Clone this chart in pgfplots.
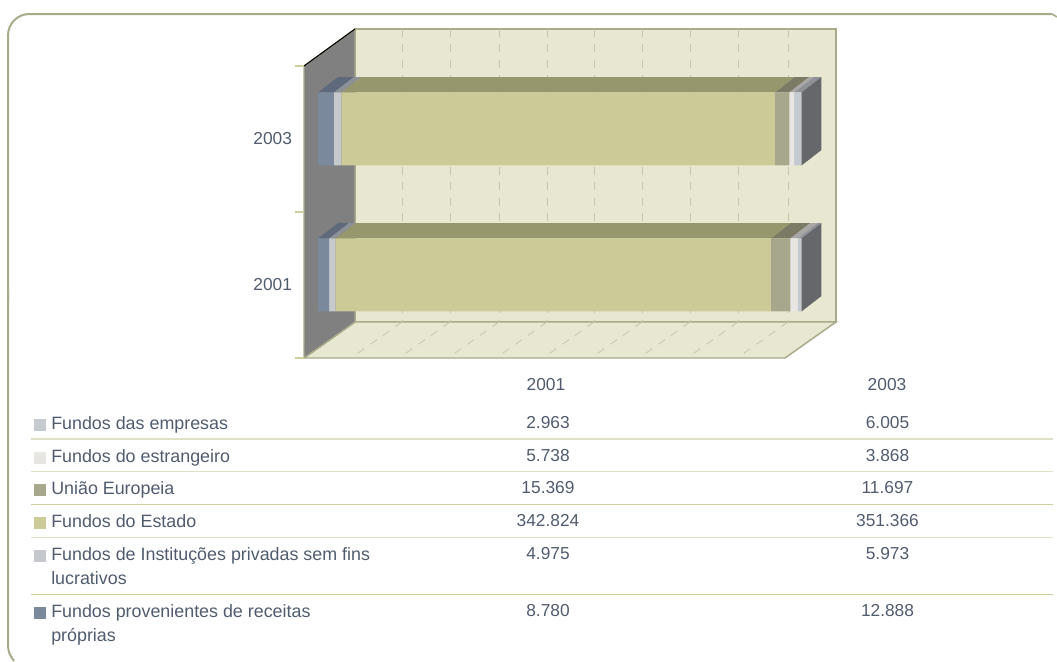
\documentclass[border=0pt]{standalone}
\usepackage{fontspec}
\setmainfont{Liberation Sans}
\usepackage{pgfplots}
\usepackage{pgfplotstable}
\pgfplotsset{compat=1.18}

\definecolor{txt}{HTML}{505C6E}
\definecolor{edge}{HTML}{A9AA8A}
\definecolor{wall}{HTML}{E8E7D2}
\definecolor{gridc}{HTML}{C6C6B0}
\definecolor{cProp}{HTML}{7B899C}\definecolor{tProp}{HTML}{5E6A7C}
\definecolor{cPriv}{HTML}{C5C9CD}\definecolor{tPriv}{HTML}{8C9198}
\definecolor{cEst}{HTML}{CCCB97}\definecolor{tEst}{HTML}{97976D}
\definecolor{cUE}{HTML}{A7A78B}\definecolor{tUE}{HTML}{7B7B65}
\definecolor{cExt}{HTML}{E8E6E3}\definecolor{tExt}{HTML}{A9A7A5}
\definecolor{cEmp}{HTML}{C5CAD0}\definecolor{tEmp}{HTML}{8E9298}
\definecolor{side}{HTML}{65676A}
\definecolor{ruleA}{HTML}{DFE0C6}
\definecolor{ruleB}{HTML}{CFCE9F}

% shares of each year's total, in percent (100% stacked bars)
\pgfplotstableread{
y prop   priv   est     ue     ext    emp
0 2.3066 1.3070 90.0638 4.0376 1.5074 0.7784
1 3.2895 1.5245 89.6806 2.9855 0.9872 1.5327
}\shares

\pgfplotsset{
  pixaxis/.style={at={(0pt,0pt)},anchor=south west,width=792.75pt,height=495.75pt,
    scale only axis,xmin=0,xmax=1057,ymin=0,ymax=661,y dir=reverse,axis lines=none,clip=false},
  baraxis/.style={at={(238.5pt,234.75pt)},anchor=south west,width=362.6pt,height=219pt,
    scale only axis,xmin=0,xmax=100,ymin=-0.5,ymax=1.5,clip=false},
  face/.style={fill=#1,draw=none,mark=none,forget plot},
  gridl/.style={draw=gridc,line width=0.6pt,dash pattern=on 6pt off 5.5pt,mark=none,forget plot},
}

\newcommand{\lab}[1]{\fontsize{13.4pt}{18pt}\selectfont #1}
\newcommand{\row}[5]{% y, colour, label, 2001, 2003
  \fill[#2] (axis cs:34,#1-4) rectangle (axis cs:46,#1+8);
  \node[anchor=base west,inner sep=0pt,text=txt] at (axis cs:51,#1+6) {\lab{#3}};
  \node[anchor=base,inner sep=0pt,text=txt] at (axis cs:548,#1+5) {#4};
  \node[anchor=base,inner sep=0pt,text=txt] at (axis cs:887.5,#1+5) {#5};
}

\begin{document}
\fontsize{13pt}{18pt}\selectfont
\begin{tikzpicture}
\path[use as bounding box] (0,0) rectangle (792.75pt,495.75pt);

% walls, floor and the table, in pixel coordinates
\begin{axis}[pixaxis]
\draw[edge,line width=1.5pt,rounded corners=16pt] (axis cs:1052,14) -- (axis cs:8,14) -- (axis cs:8,300);
\draw[edge,line width=1.5pt] (axis cs:8,290) -- (axis cs:8,640) .. controls (axis cs:8,652) .. (axis cs:14,661);
\draw[edge,line width=1.2pt] (axis cs:1052,14) -- (axis cs:1057,17);

\addplot[face=wall,draw=edge,line width=1.1pt] coordinates {(355,29)(836,29)(836,322)(355,322)} -- cycle;
\addplot[face=wall,draw=edge,line width=1.1pt] coordinates {(304,358)(355,322)(836,322)(785,358)} -- cycle;
\addplot[face=gray!100,draw=edge,line width=1pt,fill=black!50] coordinates {(304,66)(355,29)(355,322)(304,358)} -- cycle;
\addplot[black,line width=0.8pt,mark=none,forget plot] coordinates {(304,66)(355,29)};

\pgfplotsinvokeforeach{402,450,499,547,594,642,690,738,788}{
  \addplot[gridl] coordinates {(#1,29)(#1,322)};
  \addplot[gridl] coordinates {(#1,322)(#1-51,358)};
}
\addplot[ruleB,line width=1pt,mark=none,forget plot] coordinates {(295,66)(304,66)};
\addplot[ruleB,line width=1pt,mark=none,forget plot] coordinates {(295,212)(304,212)};
\addplot[ruleB,line width=1pt,mark=none,forget plot] coordinates {(295,358)(304,358)};

\node[anchor=base,inner sep=0pt,text=txt] at (axis cs:546,390) {2001};
\node[anchor=base,inner sep=0pt,text=txt] at (axis cs:887,390) {2003};
\row{423}{cEmp}{Fundos das empresas}{2.963}{6.005}
\row{456}{cExt}{Fundos do estrangeiro}{5.738}{3.868}
\row{488}{cUE}{União Europeia}{15.369}{11.697}
\row{521}{cEst}{Fundos do Estado}{342.824}{351.366}
\row{554}{cPriv}{Fundos de Instituções privadas sem fins}{4.975}{5.973}
\row{611}{cProp}{Fundos provenientes de receitas}{8.780}{12.888}
\node[anchor=base west,inner sep=0pt,text=txt] at (axis cs:51,584) {\lab{lucrativos}};
\node[anchor=base west,inner sep=0pt,text=txt] at (axis cs:51,641) {\lab{próprias}};

\addplot[ruleA,line width=1.3pt,mark=none,forget plot] coordinates {(31,439)(1053,439)};
\addplot[ruleA,line width=1.1pt,mark=none,forget plot] coordinates {(31,471.7)(1053,471.7)};
\addplot[ruleB,line width=0.8pt,mark=none,forget plot] coordinates {(31,504.3)(1053,504.3)};
\addplot[ruleA,line width=0.8pt,mark=none,forget plot] coordinates {(31,537.3)(1053,537.3)};
\addplot[ruleB,line width=0.8pt,mark=none,forget plot] coordinates {(31,594.3)(1053,594.3)};
\end{axis}

% top and end faces of the bars: x in percent, y in categories, depth (4.13, 0.106)
\begin{axis}[baraxis,hide axis]
\addplot[face=tProp] coordinates {(0,0.25)(2.3066,0.25)(6.4366,0.356)(4.13,0.356)} -- cycle;
\addplot[face=tPriv] coordinates {(2.3066,0.25)(3.6136,0.25)(7.7436,0.356)(6.4366,0.356)} -- cycle;
\addplot[face=tEst] coordinates {(3.6136,0.25)(93.6774,0.25)(97.8074,0.356)(7.7436,0.356)} -- cycle;
\addplot[face=tUE] coordinates {(93.6774,0.25)(97.7150,0.25)(101.845,0.356)(97.8074,0.356)} -- cycle;
\addplot[face=tExt] coordinates {(97.7150,0.25)(99.2224,0.25)(103.3524,0.356)(101.845,0.356)} -- cycle;
\addplot[face=tEmp] coordinates {(99.2224,0.25)(100,0.25)(104.13,0.356)(103.3524,0.356)} -- cycle;
\addplot[face=side] coordinates {(100,0.25)(104.13,0.356)(104.13,-0.144)(100,-0.25)} -- cycle;

\addplot[face=tProp] coordinates {(0,1.25)(3.2895,1.25)(7.4195,1.356)(4.13,1.356)} -- cycle;
\addplot[face=tPriv] coordinates {(3.2895,1.25)(4.814,1.25)(8.944,1.356)(7.4195,1.356)} -- cycle;
\addplot[face=tEst] coordinates {(4.814,1.25)(94.4946,1.25)(98.6246,1.356)(8.944,1.356)} -- cycle;
\addplot[face=tUE] coordinates {(94.4946,1.25)(97.4801,1.25)(101.6101,1.356)(98.6246,1.356)} -- cycle;
\addplot[face=tExt] coordinates {(97.4801,1.25)(98.4673,1.25)(102.5973,1.356)(101.6101,1.356)} -- cycle;
\addplot[face=tEmp] coordinates {(98.4673,1.25)(100,1.25)(104.13,1.356)(102.5973,1.356)} -- cycle;
\addplot[face=side] coordinates {(100,1.25)(104.13,1.356)(104.13,0.856)(100,0.75)} -- cycle;
\end{axis}

% front faces
\begin{axis}[baraxis,xbar stacked,bar width=54.75pt,
  hide x axis,y axis line style={draw=none},ytick={0,1},yticklabels={2001,2003},
  ytick style={draw=none},
  yticklabel style={text=txt,xshift=-15pt,yshift=-7.5pt}]
\addplot[fill=cProp,draw=none] table[x=prop,y=y] {\shares};
\addplot[fill=cPriv,draw=none] table[x=priv,y=y] {\shares};
\addplot[fill=cEst,draw=none] table[x=est,y=y] {\shares};
\addplot[fill=cUE,draw=none] table[x=ue,y=y] {\shares};
\addplot[fill=cExt,draw=none] table[x=ext,y=y] {\shares};
\addplot[fill=cEmp,draw=none] table[x=emp,y=y] {\shares};
\end{axis}
\end{tikzpicture}
\end{document}
